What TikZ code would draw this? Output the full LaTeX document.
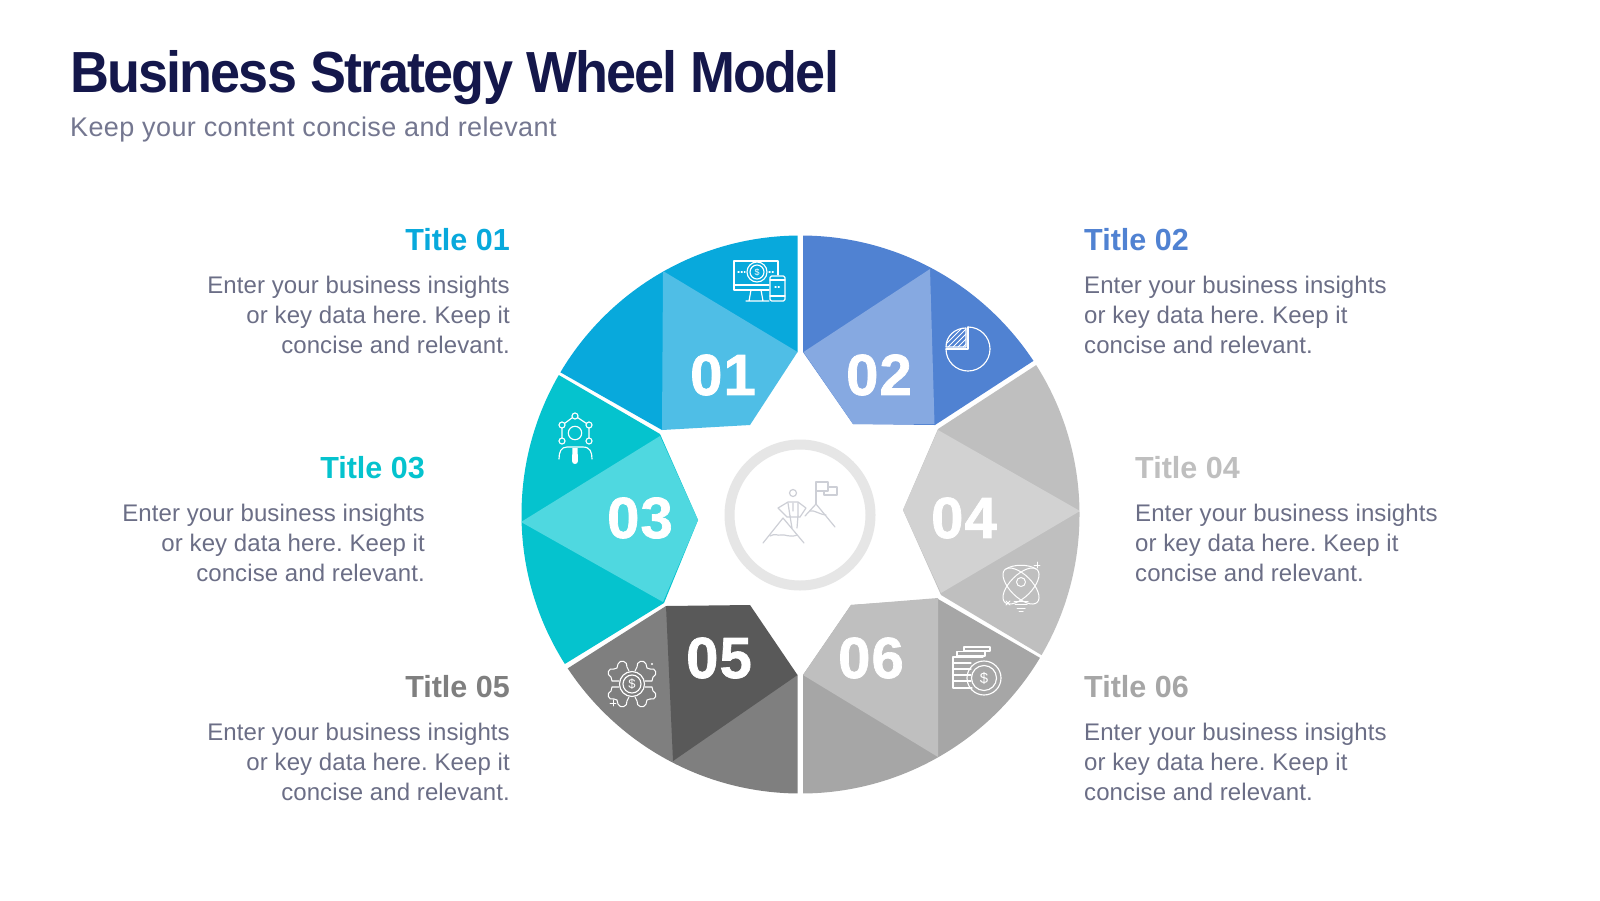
\documentclass[tikz,border=0pt]{standalone}
\usepackage{fontspec}
\setmainfont{Liberation Sans}
\newfontfamily\headfont[LetterSpace=-3.2,FakeStretch=0.93]{Liberation Sans}
\newfontfamily\subfont[LetterSpace=1.4]{Liberation Sans}
\newfontfamily\bodyfont[LetterSpace=0.4]{Liberation Sans}
\newfontfamily\numfont{Liberation Sans}
\newfontfamily\bignumfont[LetterSpace=2,FakeBold=1.2]{Liberation Sans}
\frenchspacing
\definecolor{cA}{HTML}{08A9DC}\definecolor{cAl}{HTML}{4FBEE6}
\definecolor{cB}{HTML}{5082D2}\definecolor{cBl}{HTML}{86A9E1}
\definecolor{cC}{HTML}{05C3CE}\definecolor{cCl}{HTML}{4FD8E0}
\definecolor{cD}{HTML}{BFBFBF}\definecolor{cDl}{HTML}{D2D2D2}
\definecolor{cE}{HTML}{7F7F7F}\definecolor{cEl}{HTML}{595959}
\definecolor{cF}{HTML}{A6A6A6}\definecolor{cFl}{HTML}{BFBFBF}
\definecolor{inkdark}{HTML}{14174B}
\definecolor{inksub}{HTML}{747790}
\definecolor{inkbody}{HTML}{6B6E86}
\definecolor{ringgrey}{HTML}{E6E6E6}
\definecolor{peakgrey}{HTML}{CDCFD6}
\tikzset{
  headline/.style={anchor=base west,inner sep=0pt,text=inkdark,font=\headfont\bfseries\fontsize{58}{58}\selectfont},
  subline/.style={anchor=base west,inner sep=0pt,text=inksub,font=\subfont\fontsize{27}{27}\selectfont},
  ttl/.style={inner sep=0pt,font=\numfont\bfseries\fontsize{30.5}{30.5}\selectfont},
  ttlr/.style={ttl,anchor=base east},
  ttll/.style={ttl,anchor=base west},
  bodyr/.style={anchor=base east,inner sep=0pt,text=inkbody,align=right,font=\bodyfont\fontsize{24}{30}\selectfont},
  bodyl/.style={anchor=base west,inner sep=0pt,text=inkbody,align=left,font=\bodyfont\fontsize{24}{30}\selectfont},
  num/.style={inner sep=0pt,text=white,font=\bignumfont\bfseries\fontsize{58}{58}\selectfont},
  ico/.style={draw=white,line width=1.15pt,line join=round,line cap=round},
  peak/.style={draw=peakgrey,line width=1.2pt,line join=round,line cap=round},
  dollar/.style={inner sep=0pt,text=white,font=\numfont\fontsize{14}{14}\selectfont},
}
\begin{document}
\begin{tikzpicture}[x=1pt,y=-1pt]
\useasboundingbox (0,0) rectangle (1600,900);
\fill[white] (0,0) rectangle (1600,900);

\node[headline] (head) at (70,92) {Business Strategy Wheel Model};
\node[subline] (sub) at (70,136) {Keep your content concise and relevant};

% wheel
\begin{scope}
\clip (800.5,514.5) circle (279pt);
\fill[cA] (797.5,200) -- (797.5,352) -- (662,430) -- (500,338) -- (500,200) -- cycle;
\fill[cAl] (663,271) -- (797.5,352) -- (750,425) -- (662,430) -- cycle;
\fill[cB] (803,200) -- (1110,200) -- (1110,311) -- (935,425) -- (853,424) -- (803,352) -- cycle;
\fill[cBl] (930,269) -- (803.5,352) -- (853,424) -- (934.5,424) -- cycle;
\fill[cD] (938,429) -- (1110,317) -- (1110,696) -- (941,595) -- (903,510) -- cycle;
\fill[cDl] (938,430) -- (1080,511) -- (941,593) -- (903,510) -- cycle;
\fill[cC] (660,434) -- (490,335) -- (490,710) -- (664,603) -- (698,520) -- cycle;
\fill[cCl] (660,436) -- (521,522) -- (663,602) -- (698,520) -- cycle;
\fill[cE] (666,606) -- (480,724) -- (480,830) -- (797.5,830) -- (797.5,675) -- cycle;
\fill[cEl] (666,606) -- (750,605) -- (797.5,675) -- (673,761) -- cycle;
\fill[cF] (803,675) -- (851,605) -- (938,599) -- (1120,704) -- (1120,830) -- (803,830) -- cycle;
\fill[cFl] (803,675) -- (851,605) -- (938,598) -- (938,757) -- cycle;
\end{scope}

% centre ring
\draw[ringgrey,line width=10pt] (800,515) circle (70.5pt);

% numbers
\node[num] (n1) at (723,375) {01};
\node[num] (n2) at (879,375) {02};
\node[num] (n3) at (640,518) {03};
\node[num] (n4) at (964,518) {04};
\node[num] (n5) at (719,658) {05};
\node[num] (n6) at (871,658) {06};

% texts
\node[ttlr,text=cA] (t1) at (510,250) {Title 01};
\node[bodyr] (b1) at (510,353) {Enter your business insights\\or key data here. Keep it\\concise and relevant.};
\node[ttll,text=cB] (t2) at (1084,250) {Title 02};
\node[bodyl] (b2) at (1084,353) {Enter your business insights\\or key data here. Keep it\\concise and relevant.};
\node[ttlr,text=cC] (t3) at (425,478) {Title 03};
\node[bodyr] (b3) at (425,581) {Enter your business insights\\or key data here. Keep it\\concise and relevant.};
\node[ttll,text=cD] (t4) at (1135,478) {Title 04};
\node[bodyl] (b4) at (1135,581) {Enter your business insights\\or key data here. Keep it\\concise and relevant.};
\node[ttlr,text=cE] (t5) at (510,697) {Title 05};
\node[bodyr] (b5) at (510,800) {Enter your business insights\\or key data here. Keep it\\concise and relevant.};
\node[ttll,text=cF] (t6) at (1084,697) {Title 06};
\node[bodyl] (b6) at (1084,800) {Enter your business insights\\or key data here. Keep it\\concise and relevant.};

% icon 01: monitor + phone + coin
\draw[ico] (769,290) -- (734,290) -- (734,261) -- (778,261) -- (778,275);
\draw[ico] (734,285) -- (769,285);
\draw[ico] (751,290) -- (749,301) (761,290) -- (763,301) (746,301) -- (769,301);
\draw[ico,rounded corners=1.5pt] (770,276) rectangle (785,301);
\draw[ico] (770,296) -- (785,296) (770,280) -- (785,280);
\draw[ico] (757,272) circle (10pt) (757,272) circle (7pt);
\node[dollar,font=\numfont\fontsize{9}{9}\selectfont] (d1) at (757,272) {\$};
\draw[ico,dotted] (738,272) -- (745,272) (769,272) -- (775,272) (775,287) -- (780,287);

% icon 02: pie
\draw[ico] (968,327) arc[start angle=90,end angle=-180,radius=22pt];
\draw[ico] (968,327) -- (968,349) -- (946,349);
\begin{scope}
\clip (966,347) -- (946,347) .. controls (946,336) and (955,328) .. (966,328) -- cycle;
\foreach \k in {-15,-10,-5,0,5,10,15,20}{ \draw[white,line width=1pt] (948+\k,347) -- (968+\k,327); }
\end{scope}
\draw[ico] (966,347) -- (946,347) .. controls (946,336) and (955,328) .. (966,328) -- cycle;

% icon 03: people network
\draw[ico] (575,433) circle (6.7pt);
\draw[ico] (575,416) circle (3pt) (562,425) circle (3pt) (589,425) circle (3pt) (562,441) circle (3pt) (589,441) circle (3pt);
\draw[ico] (572.5,417.5) -- (564.5,423.5) (577.5,417.5) -- (586.5,423.5) (562,428) -- (562,438) (589,428) -- (589,438);
\draw[ico] (559,459) .. controls (559,452) and (561,447) .. (567,447) -- (583,447) .. controls (590,447) and (592,452) .. (592,459);
\fill[white] (572.5,448) -- (577.5,448) -- (578,461) .. controls (578,465) and (572,465) .. (572,461) -- cycle;

% icon 05: gear of puzzle pieces
\begin{scope}[shift={(632,684)}]
\draw[ico] (0,0) circle (12.5pt) (0,0) circle (9pt);
\node[dollar,font=\numfont\fontsize{13}{13}\selectfont] (d5) at (0,0) {\$};
\foreach \sx/\sy in {1/1,-1/1,1/-1,-1/-1}{
 \begin{scope}[xscale=\sx,yscale=\sy]
 \draw[ico,line width=1.05pt] (3,-13) -- (5,-17) .. controls (4,-23) and (12,-25) .. (14,-20) -- (15,-16) -- (18,-15) .. controls (24,-17) and (26,-9) .. (21,-7) -- (20,-3) -- (13,-3);
 \end{scope}
}
\end{scope}
\fill[white] (652,664) circle (1.2pt);
\draw[ico,line width=.9pt] (610,703) -- (616,703) (613,700) -- (613,706);

% icon 04: atom bulb
\begin{scope}[shift={(1021,586)}]
\draw[ico,line width=1pt,rotate=45] (0,0) ellipse (23pt and 11pt);
\draw[ico,line width=1pt,rotate=-45] (0,0) ellipse (23pt and 11pt);
\draw[ico,line width=1pt] (-15,-17) .. controls (-8,-22) and (8,-22) .. (15,-17);
\draw[ico,line width=1pt] (0,-4) circle (4.5pt);
\draw[ico,line width=1pt] (-7,15) -- (7,15) (-6,18.5) -- (6,18.5) (-4,22) -- (4,22) (-2,25) -- (2,25);
\end{scope}
\draw[ico,line width=.9pt] (1034,565) -- (1040,565) (1037,562) -- (1037,568);
\draw[ico,line width=.9pt] (1006,601) -- (1010,605) (1010,601) -- (1006,605);

% icon 06: coins
\draw[ico] (964,647) rectangle (990,651);
\draw[ico] (957,651.5) rectangle (985,656);
\draw[ico] (972,688) -- (953,688) -- (953,657) -- (983,657);
\foreach \yy in {663,669,675,681}{ \draw[ico] (953,\yy) -- (971,\yy); }
\draw[ico] (984,678) circle (17pt) (984,678) circle (12.5pt);
\node[dollar,font=\numfont\fontsize{15}{15}\selectfont] (d6) at (984,678) {\$};

% centre icon: man on mountains
\draw[peak] (763,543) -- (783,518) -- (804,543);
\draw[peak] (770,536) .. controls (775,533) and (778,536) .. (781,535) .. controls (785,534) and (790,538) .. (797,535);
\draw[peak] (805,516) -- (816,504) -- (835,527);
\draw[peak] (810,511) .. controls (815,510) and (818,514) .. (826,515);
\draw[peak] (816,504) -- (816,482) -- (828,482) -- (828,491) -- (816,491);
\draw[peak] (828,487) -- (837,487) -- (837,495) -- (824,495) -- (824,491);
\draw[peak] (793,493) circle (3.5pt);
\draw[peak] (788,502) -- (798,502) -- (806,508) -- (800,517) (788,502) -- (778,508) -- (787,517);
\draw[peak] (790,516) -- (792,528) (798,516) -- (797,528) (787,517) -- (800,517);
\draw[peak] (793,503) -- (793,511) (788,503) -- (790,516) (798,503) -- (798,516);
\end{tikzpicture}
\end{document}
